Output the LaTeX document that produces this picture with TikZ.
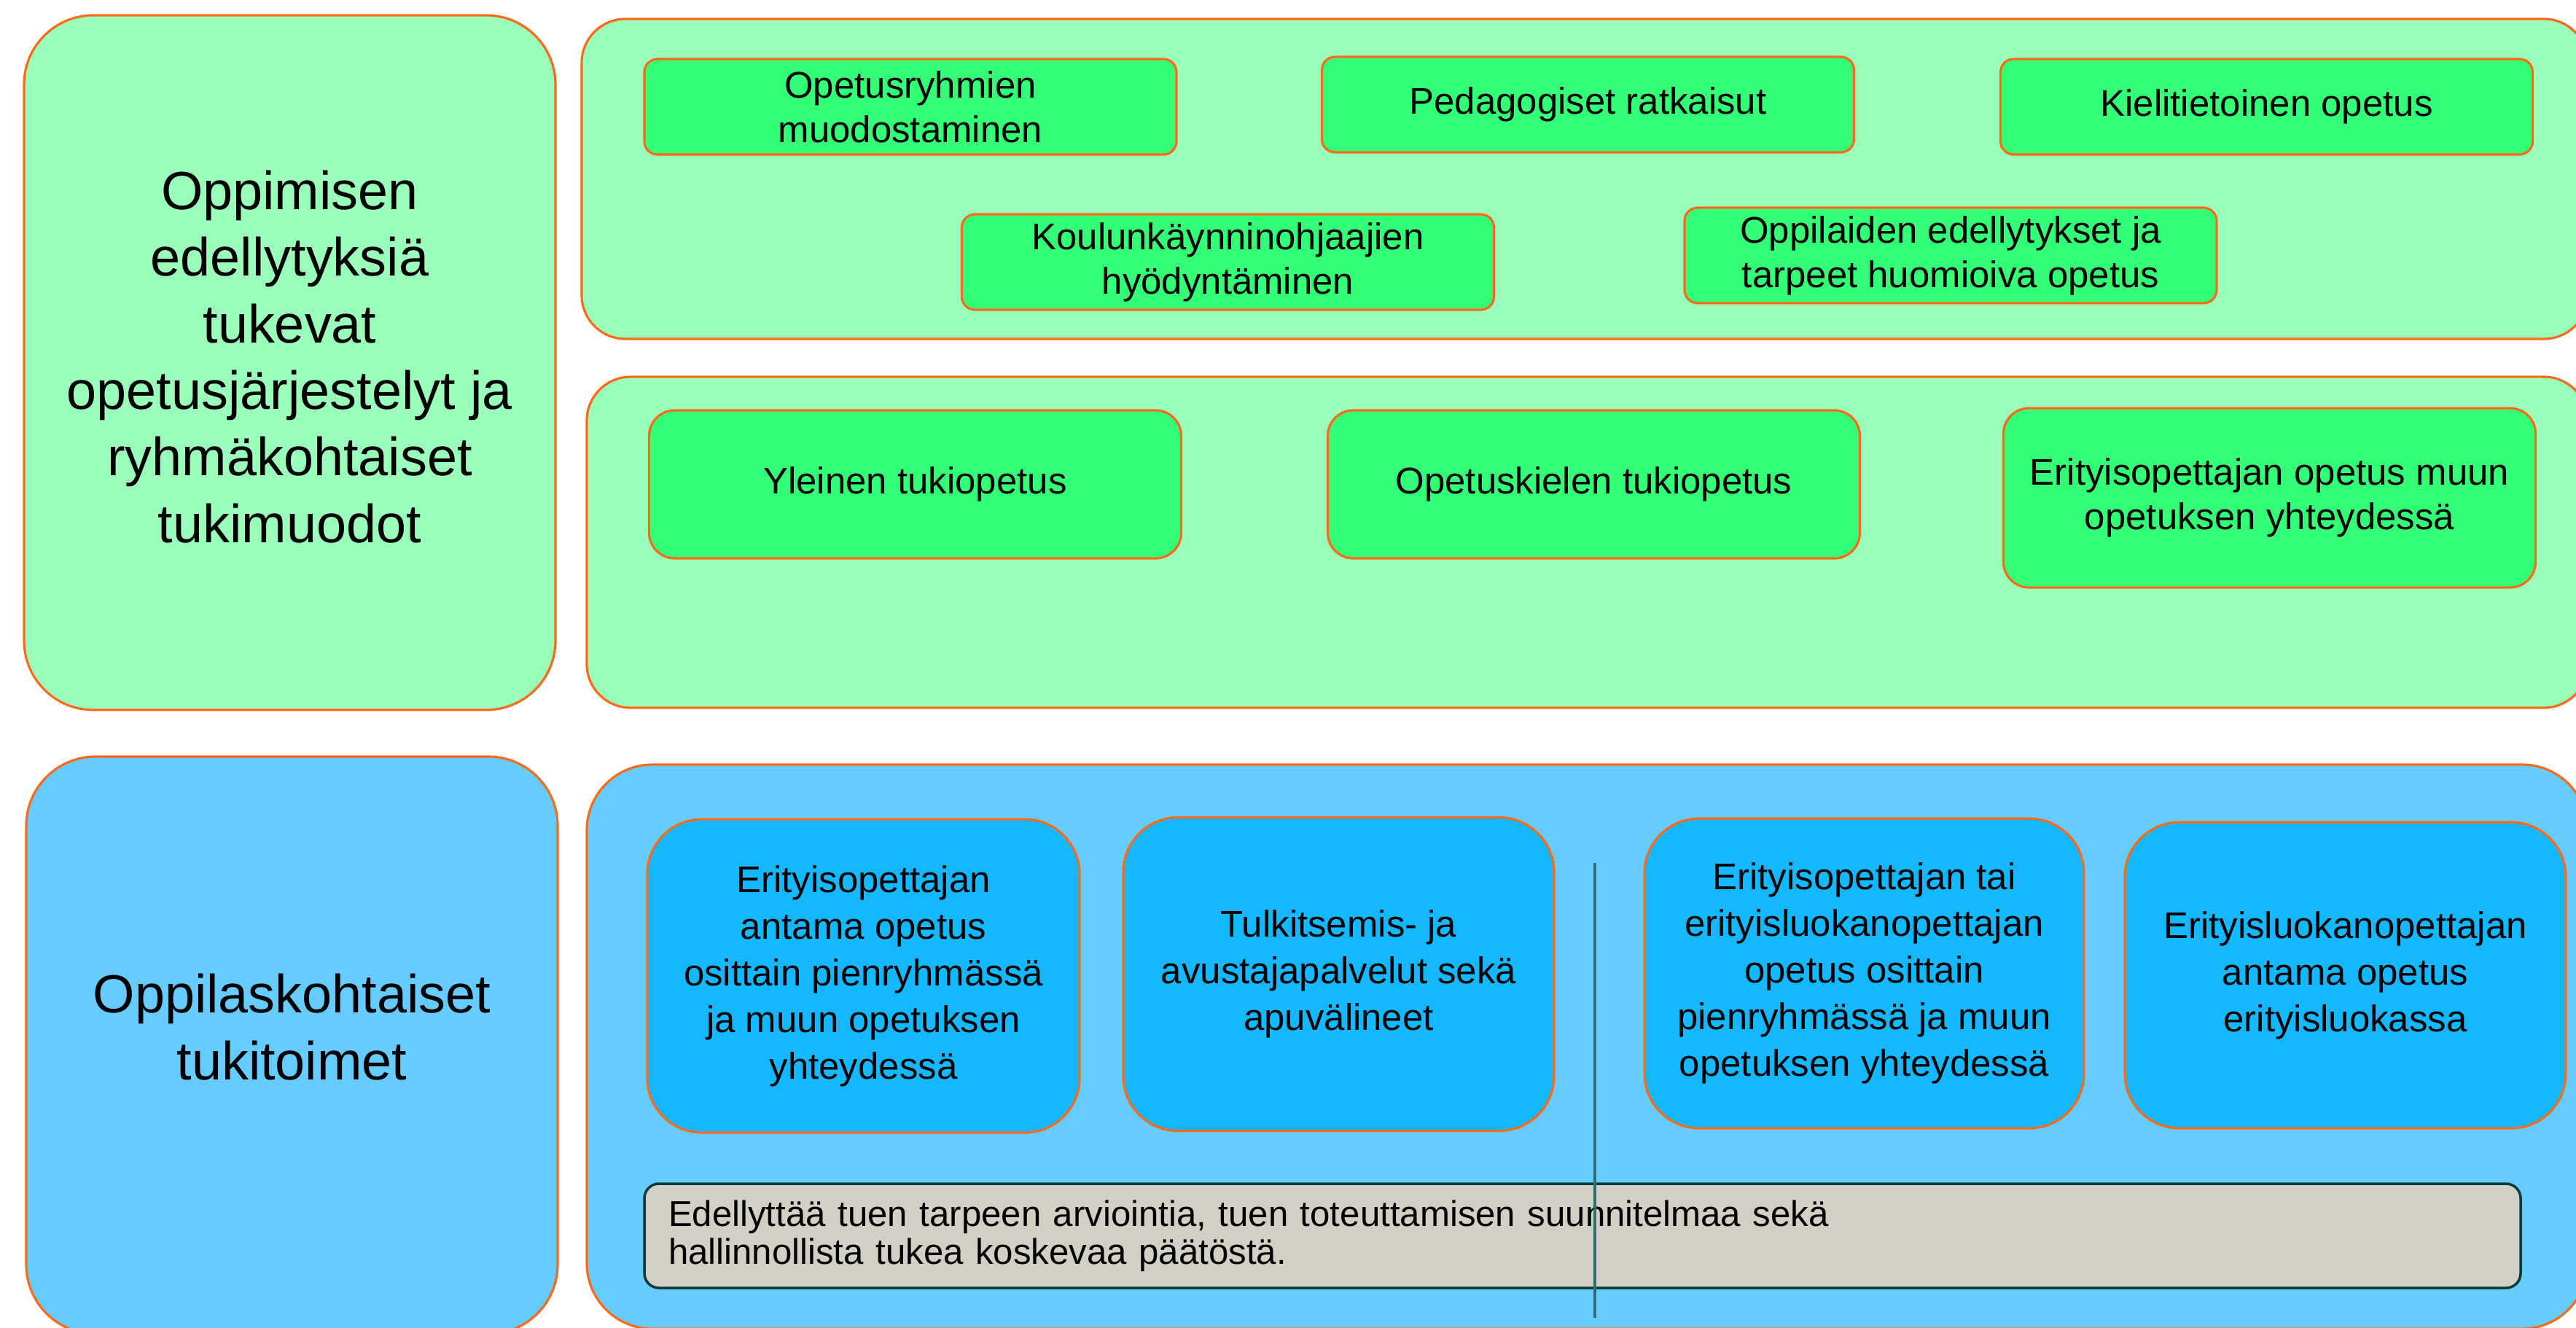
\documentclass[tikz,border=0pt]{standalone}
\usepackage{fontspec}
\setmainfont{Liberation Sans}
\usepackage{xcolor}
\usepackage{tikz}
\usetikzlibrary{positioning, calc}

\definecolor{groupgreen}{HTML}{99FFBB}
\definecolor{itemgreen}{HTML}{33FF77}
\definecolor{groupblue}{HTML}{66CCFF}
\definecolor{itemblue}{HTML}{14B8FF}
\definecolor{edgeorange}{HTML}{FF6A1A}
\definecolor{notegray}{HTML}{D2D0C5}
\definecolor{noteedge}{HTML}{0C3A3A}
\definecolor{dividerteal}{HTML}{2A6E78}

\begin{document}
\begin{tikzpicture}[
        title/.style={draw=edgeorange, line width=0.9pt, rounded corners=0.95cm, inner sep=0pt},
        area/.style={draw=edgeorange, line width=0.9pt, rounded corners=0.6cm, inner sep=0pt},
        biglabel/.style={align=center, font=\fontsize{21}{26}\selectfont, inner sep=0pt},
        gbox/.style={draw=edgeorange, line width=0.9pt, fill=itemgreen, rounded corners=0.18cm, minimum width=7.3cm, minimum height=1.31cm, align=center, inner sep=0pt, font=\fontsize{14.5}{17.4}\selectfont},
        gtall/.style={gbox, rounded corners=0.35cm, minimum height=2.03cm},
        bbox/.style={draw=edgeorange, line width=0.9pt, fill=itemblue, rounded corners=0.75cm, minimum width=5.93cm, minimum height=4.3cm, align=center, inner sep=0pt, font=\fontsize{14.5}{18.2}\selectfont},
        note/.style={draw=noteedge, line width=1pt, fill=notegray, rounded corners=0.2cm, minimum width=25.74cm, minimum height=1.43cm, text width=25.08cm, inner xsep=0.33cm, inner ysep=0pt, align=left, font=\fontsize{14}{14.8}\selectfont},
        divider/.style={draw=dividerteal, line width=0.9pt}
    ]

    \useasboundingbox (0,0) rectangle (35.34,-18.21);

    % Left titles
    \node[title, fill=groupgreen, minimum width=7.29cm, minimum height=9.53cm] (learn) at (3.975,-4.975) {};
    \node[biglabel] at ([yshift=0.08cm]learn.center) {Oppimisen\\edellytyksiä\\tukevat\\opetusjärjestelyt ja\\ryhmäkohtaiset\\tukimuodot};

    \node[title, fill=groupblue, minimum width=7.29cm, minimum height=7.92cm] (pupil) at (4.005,-14.34) {};
    \node[biglabel] at ([yshift=0.25cm]pupil.center) {Oppilaskohtaiset\\tukitoimet};

    % Group areas
    \node[area, fill=groupgreen, minimum width=27.52cm, minimum height=4.39cm] (arrange) at (21.74,-2.455) {};
    \node[area, fill=groupgreen, minimum width=27.45cm, minimum height=4.54cm] (groupsup) at (21.775,-7.44) {};
    \node[area, fill=groupblue, rounded corners=0.9cm, minimum width=27.45cm, minimum height=7.74cm] (pupilsup) at (21.775,-14.36) {};

    % Arrangements
    \node[gbox] (groups) at (12.49,-1.465) {Opetusryhmien\\muodostaminen};
    \node[gbox] (pedagogy) at (21.785,-1.435) {Pedagogiset ratkaisut};
    \node[gbox] (language) at (31.095,-1.465) {Kielitietoinen opetus};
    \node[gbox] (assistants) at (16.845,-3.595) {Koulunkäynninohjaajien\\hyödyntäminen};
    \node[gbox] (needs) at (26.76,-3.505) {Oppilaiden edellytykset ja\\tarpeet huomioiva opetus};

    % Group-level support
    \node[gtall] (remedial) at (12.555,-6.645) {Yleinen tukiopetus};
    \node[gtall] (langsup) at (21.865,-6.645) {Opetuskielen tukiopetus};
    \node[gtall, minimum height=2.46cm] (specedu) at (31.135,-6.83) {Erityisopettajan opetus muun\\opetuksen yhteydessä};

    % Pupil-level support
    \node[bbox] (parttime) at (11.845,-13.39) {Erityisopettajan\\antama opetus\\osittain pienryhmässä\\ja muun opetuksen\\yhteydessä};
    \node[bbox, minimum width=5.91cm] (interpret) at (18.365,-13.365) {Tulkitsemis- ja\\avustajapalvelut sekä\\apuvälineet};
    \node[bbox, minimum width=6.03cm, minimum height=4.25cm] (smallgroup) at (25.575,-13.355) {Erityisopettajan tai\\erityisluokanopettajan\\opetus osittain\\pienryhmässä ja muun\\opetuksen yhteydessä};
    \node[bbox, minimum width=6.05cm, minimum height=4.2cm] (specclass) at (32.175,-13.38) {Erityisluokanopettajan\\antama opetus\\erityisluokassa};

    % Decision note
    \node[note] (decision) at (21.71,-16.955) {Edellyttää tuen tarpeen arviointia, tuen toteuttamisen suunnitelmaa sekä\\hallinnollista tukea koskevaa päätöstä.};

    % Divider line
    \coordinate (divtop) at (21.88,-11.84);
    \coordinate (divbot) at (21.88,-18.08);
    \draw[divider] (divtop) -- (divbot);

\end{tikzpicture}
\end{document}
